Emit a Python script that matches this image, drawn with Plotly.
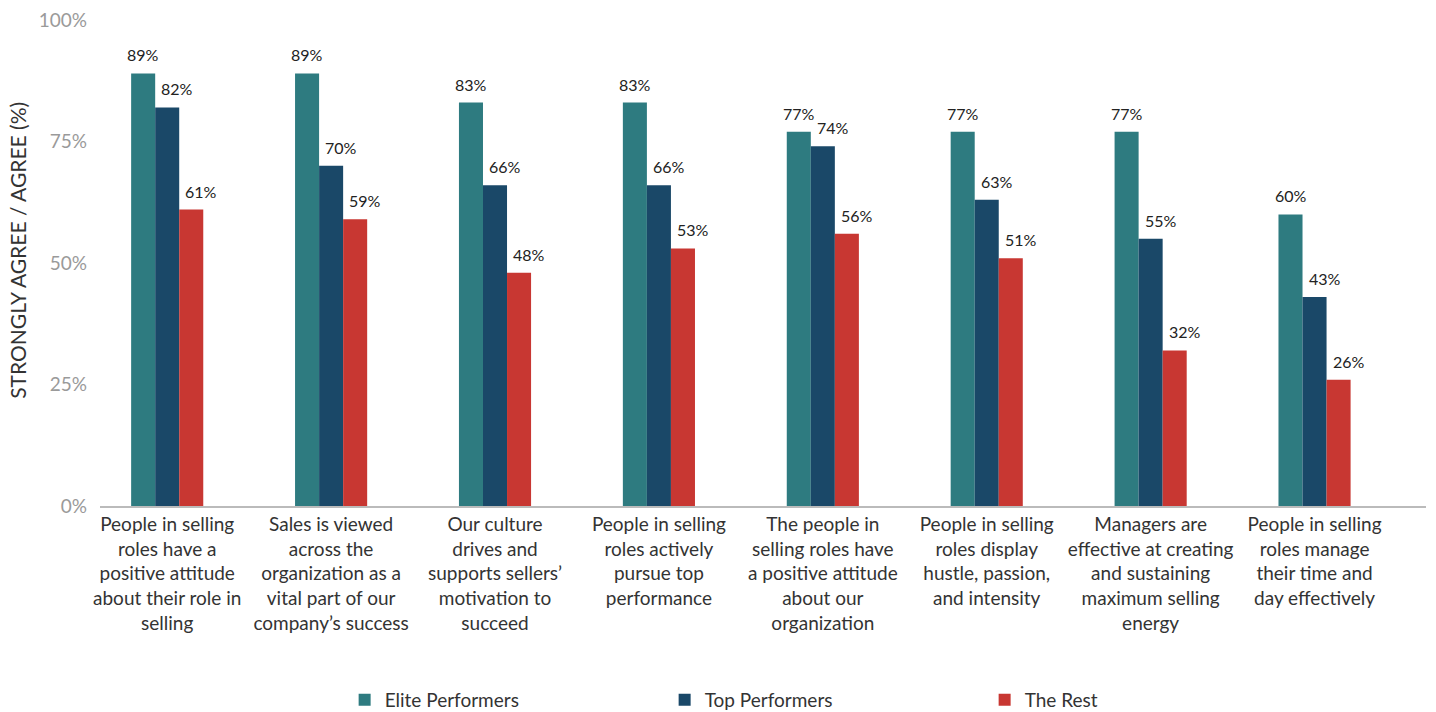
import plotly.graph_objects as go

categories = [
    "People in selling<br>roles have a<br>positive attitude<br>about their role in<br>selling",
    "Sales is viewed<br>across the<br>organization as a<br>vital part of our<br>company\u2019s success",
    "Our culture<br>drives and<br>supports sellers\u2019<br>motivation to<br>succeed",
    "People in selling<br>roles actively<br>pursue top<br>performance",
    "The people in<br>selling roles have<br>a positive attitude<br>about our<br>organization",
    "People in selling<br>roles display<br>hustle, passion,<br>and intensity",
    "Managers are<br>effective at creating<br>and sustaining<br>maximum selling<br>energy",
    "People in selling<br>roles manage<br>their time and<br>day effectively",
]

elite = [89, 89, 83, 83, 77, 77, 77, 60]
top = [82, 70, 66, 66, 74, 63, 55, 43]
rest = [61, 59, 48, 53, 56, 51, 32, 26]

series = [
    ("Elite Performers", elite, "#2E7B80"),
    ("Top Performers", top, "#1A4868"),
    ("The Rest", rest, "#C83732"),
]

FONT = "Lato, 'Noto Sans', sans-serif"
BARGAP = 0.56
bar_w = (1 - BARGAP) / len(series)
label_xshift = [0, 10, 10]

fig = go.Figure()
annotations = []
for k, (name, vals, color) in enumerate(series):
    fig.add_trace(go.Bar(
        name=name,
        x=list(range(len(categories))),
        y=vals,
        marker=dict(color=color, line=dict(width=0)),
    ))
    # value labels above each bar
    offset = (k - (len(series) - 1) / 2) * bar_w
    for i, v in enumerate(vals):
        annotations.append(dict(
            x=i + offset, y=v, xref="x", yref="y",
            text=f"{v}%", showarrow=False,
            xanchor="center", yanchor="bottom",
            xshift=label_xshift[k], yshift=7,
            font=dict(size=16, color="#222222", family=FONT),
        ))

annotations.append(dict(
    text="STRONGLY AGREE / AGREE (%)",
    xref="paper", yref="paper",
    x=-0.062, y=(506 - 250) / 486,
    xanchor="center", yanchor="middle",
    textangle=-90,
    showarrow=False,
    font=dict(size=21, color="#333333", family=FONT),
))

fig.update_layout(
    width=1436,
    height=712,
    barmode="group",
    bargap=BARGAP,
    bargroupgap=0,
    plot_bgcolor="white",
    paper_bgcolor="white",
    margin=dict(l=100, r=10, t=20, b=206, autoexpand=False),
    font=dict(family=FONT, color="#333333"),
    showlegend=True,
    legend=dict(
        orientation="h",
        xref="container",
        yref="container",
        x=0.240,
        y=0.017,
        xanchor="left",
        yanchor="middle",
        entrywidth=275,
        entrywidthmode="pixels",
        font=dict(size=19, color="#333333", family=FONT),
        itemsizing="constant",
    ),
    annotations=annotations,
)

fig.update_xaxes(
    tickmode="array",
    tickvals=list(range(len(categories))),
    ticktext=categories,
    range=[-0.41, 7.68],
    showline=True,
    linecolor="#BBBBBB",
    linewidth=2,
    ticks="",
    tickfont=dict(size=19, color="#333333", family=FONT),
    showgrid=False,
    zeroline=False,
    automargin=False,
)

fig.update_yaxes(
    range=[0, 100],
    tickvals=[0, 25, 50, 75, 100],
    ticktext=["0%", "25%", "50%", "75%", "100%"],
    tickfont=dict(size=19, color="#9A9A9A", family=FONT),
    showgrid=False,
    zeroline=False,
    showline=False,
    ticks="",
    ticklabelstandoff=12,
    automargin=False,
)

fig.write_html("out.html")
